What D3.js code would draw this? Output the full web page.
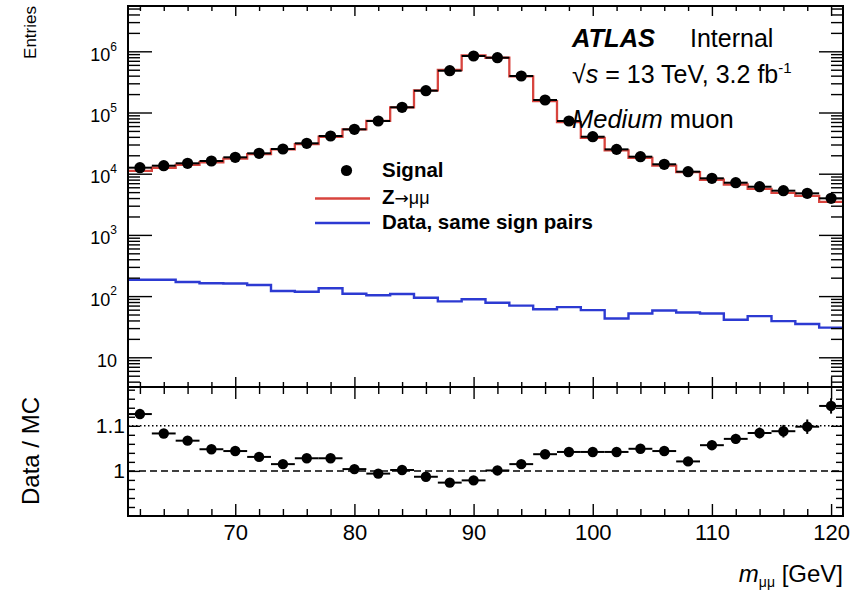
<!DOCTYPE html>
<html><head><meta charset="utf-8">
<script src="https://cdn.jsdelivr.net/npm/d3@7"></script>
<style>
body{margin:0;background:#fff;}
svg{display:block;font-family:"Liberation Sans",Arial,Helvetica,sans-serif;}
</style></head><body>
<svg id="c" width="867" height="590"></svg>
<script>
// ---- data ----
const binCenters=[62,64,66,68,70,72,74,76,78,80,82,84,86,88,90,92,94,96,98,100,102,104,106,108,110,112,114,116,118,120];
const binWidth=2;
const signal=[12540,13520,14790,16130,18530,21540,25330,31390,41300,53100,72600,121600,227000,482000,838000,786000,395000,160000,72600,40200,25000,18970,14250,10790,8410,7130,6130,5280,4780,3960];
const zmumu=[11100,12500,13900,15400,17700,20900,25000,30500,40200,52900,73000,121000,230000,495000,856000,785000,389000,154000,69700,38600,24000,18100,13600,10600,7960,6660,5650,4850,4350,3460];
const sameSign=[185,185,170,162,161,152,121,118,134,109,103,108,94,82,89,78,70,61,66,59,43,52,58,54,52,41,47,39,35,30.5];
const ratio=[1.126,1.083,1.067,1.048,1.044,1.031,1.015,1.028,1.028,1.004,0.994,1.002,0.987,0.974,0.979,1.001,1.015,1.037,1.042,1.042,1.042,1.049,1.044,1.021,1.057,1.071,1.084,1.088,1.098,1.144];
const ratioErr=[0.010,0.009,0.009,0.008,0.008,0.007,0.007,0.006,0.005,0.005,0.004,0.003,0.002,0.0015,0.001,0.001,0.0015,0.003,0.004,0.005,0.006,0.007,0.008,0.009,0.010,0.011,0.012,0.014,0.016,0.017];
const xTickLabels=[70,80,90,100,110,120];
const decadeTicks=[10,100,1000,10000,100000,1000000];
const ratioTickLabels=[1,1.1];
const legendLabels=["Signal","Z→μμ","Data, same sign pairs"];

// ---- layout ----
const svg=d3.select("#c");
const L=128,R=843,T=6,M=387,B=516;
const x=d3.scaleLinear().domain([61,121]).range([L,R]);
const y=d3.scaleLog().domain([3.27,5.5e6]).range([M,T]);
const yr=d3.scaleLinear().domain([0.9,1.186]).range([B,M]);

const RED="#d8443e", BLUE="#2c3ad2";

svg.append("defs").append("clipPath").attr("id","cu")
  .append("rect").attr("x",L).attr("y",T).attr("width",R-L).attr("height",M-T);

// minor tick values
const xMinor=d3.range(62,121,2).filter(v=>v%10!==0);
const logMinor=[];
for(let e=0;e<=6;e++){for(let m=2;m<=9;m++){const v=m*Math.pow(10,e);if(v>3.27&&v<5.5e6)logMinor.push(v);}}
const rMinor=d3.range(0.92,1.185,0.02).filter(v=>Math.abs(v-1)>1e-6&&Math.abs(v-1.1)>1e-6);

function axisG(gen,tx,ty){
  const g=svg.append("g").attr("transform",`translate(${tx},${ty})`).call(gen);
  g.select(".domain").remove();
  g.selectAll(".tick line").attr("stroke","#000").attr("stroke-width",1.4);
  g.selectAll(".tick text").attr("fill","#000");
  return g;
}

// ---- upper panel contents ----
const up=svg.append("g").attr("clip-path","url(#cu)");
function stepPts(vals){const p=[];binCenters.forEach((c,i)=>{p.push([c-binWidth/2,vals[i]]);p.push([c+binWidth/2,vals[i]]);});return p;}
const stepLine=d3.line().x(d=>x(d[0])).y(d=>y(d[1]));
up.append("path").attr("d",stepLine(stepPts(sameSign))).attr("fill","none").attr("stroke",BLUE).attr("stroke-width",2.4);
up.append("path").attr("d",stepLine(stepPts(zmumu))).attr("fill","none").attr("stroke",RED).attr("stroke-width",2.3);
up.selectAll(".hbar").data(signal).enter().append("line")
  .attr("x1",(d,i)=>x(binCenters[i]-binWidth/2)).attr("x2",(d,i)=>x(binCenters[i]+binWidth/2))
  .attr("y1",d=>y(d)).attr("y2",d=>y(d)).attr("stroke","#000").attr("stroke-width",2);
up.selectAll(".pt").data(signal).enter().append("circle")
  .attr("cx",(d,i)=>x(binCenters[i])).attr("cy",d=>y(d)).attr("r",5.6).attr("fill","#000");

// ---- ratio panel contents ----
svg.append("line").attr("x1",L).attr("x2",R).attr("y1",yr(1.1)).attr("y2",yr(1.1))
  .attr("stroke","#000").attr("stroke-width",1.5).attr("stroke-dasharray","1.5,2.5");
svg.append("line").attr("x1",L).attr("x2",R).attr("y1",yr(1)).attr("y2",yr(1))
  .attr("stroke","#000").attr("stroke-width",1.5).attr("stroke-dasharray","7,4");
const rg=svg.append("g");
rg.selectAll(".rh").data(ratio).enter().append("line")
  .attr("x1",(d,i)=>x(binCenters[i]-binWidth/2)).attr("x2",(d,i)=>x(binCenters[i]+binWidth/2))
  .attr("y1",d=>yr(d)).attr("y2",d=>yr(d)).attr("stroke","#000").attr("stroke-width",2);
rg.selectAll(".rv").data(ratio).enter().append("line")
  .attr("x1",(d,i)=>x(binCenters[i])).attr("x2",(d,i)=>x(binCenters[i]))
  .attr("y1",(d,i)=>yr(d-ratioErr[i])).attr("y2",(d,i)=>yr(d+ratioErr[i])).attr("stroke","#000").attr("stroke-width",2);
rg.selectAll(".rp").data(ratio).enter().append("circle")
  .attr("cx",(d,i)=>x(binCenters[i])).attr("cy",d=>yr(d)).attr("r",5.2).attr("fill","#000");

// ---- axes ----
axisG(d3.axisTop(x).tickValues(xTickLabels).tickSize(-10).tickFormat(""),0,T);
axisG(d3.axisTop(x).tickValues(xMinor).tickSize(-5).tickFormat(""),0,T);
axisG(d3.axisBottom(x).tickValues(xTickLabels).tickSize(-10).tickFormat(""),0,M);
axisG(d3.axisBottom(x).tickValues(xMinor).tickSize(-5).tickFormat(""),0,M);
const yl=axisG(d3.axisLeft(y).tickValues(decadeTicks).tickSize(-24).tickPadding(11).tickFormat(()=>"10"),L,0);
yl.selectAll(".tick text").attr("font-size",18).attr("dy","0.5em")
  .each(function(d){const e=Math.round(Math.log10(d));if(e>1){d3.select(this).append("tspan").attr("font-size",12).attr("dy","-0.85em").text(e);}});
axisG(d3.axisLeft(y).tickValues(logMinor).tickSize(-12).tickFormat(""),L,0);
axisG(d3.axisRight(y).tickValues(decadeTicks).tickSize(-24).tickFormat(""),R,0);
axisG(d3.axisRight(y).tickValues(logMinor).tickSize(-12).tickFormat(""),R,0);
axisG(d3.axisTop(x).tickValues(xTickLabels).tickSize(-12).tickFormat(""),0,M);
axisG(d3.axisTop(x).tickValues(xMinor).tickSize(-7).tickFormat(""),0,M);
const xb=axisG(d3.axisBottom(x).tickValues(xTickLabels).tickSize(-12).tickPadding(8).tickFormat(d3.format("d")),0,B);
xb.selectAll(".tick text").attr("font-size",22);
axisG(d3.axisBottom(x).tickValues(xMinor).tickSize(-7).tickFormat(""),0,B);
const ryl=axisG(d3.axisLeft(yr).tickValues(ratioTickLabels).tickSize(-12).tickPadding(3).tickFormat(d=>d===1?"1":"1.1"),L,0);
ryl.selectAll(".tick text").attr("font-size",21);
axisG(d3.axisLeft(yr).tickValues(rMinor).tickSize(-7).tickFormat(""),L,0);
axisG(d3.axisRight(yr).tickValues(ratioTickLabels).tickSize(-12).tickFormat(""),R,0);
axisG(d3.axisRight(yr).tickValues(rMinor).tickSize(-7).tickFormat(""),R,0);

// frames
svg.append("rect").attr("x",L).attr("y",T).attr("width",R-L).attr("height",M-T).attr("fill","none").attr("stroke","#000").attr("stroke-width",2);
svg.append("rect").attr("x",L).attr("y",M).attr("width",R-L).attr("height",B-M).attr("fill","none").attr("stroke","#000").attr("stroke-width",2);

// ---- titles ----
svg.append("text").attr("transform","translate(36,6) rotate(-90)").attr("text-anchor","end").attr("font-size",17).text("Entries");
svg.append("text").attr("transform","translate(39,451) rotate(-90)").attr("text-anchor","middle").attr("font-size",24).text("Data / MC");
const xt=svg.append("text").attr("x",R).attr("y",582).attr("text-anchor","end").attr("font-size",24);
xt.append("tspan").attr("font-style","italic").text("m");
xt.append("tspan").attr("font-size",14).attr("dy",5).text("μμ");
xt.append("tspan").attr("dy",-5).text(" [GeV]");

svg.append("text").attr("x",572).attr("y",47).attr("font-size",25.5).attr("font-weight","bold").attr("font-style","italic").text("ATLAS");
svg.append("text").attr("x",690).attr("y",47).attr("font-size",25).text("Internal");
const ss=svg.append("text").attr("x",572).attr("y",83).attr("font-size",25);
ss.append("tspan").text("√");
ss.append("tspan").attr("font-style","italic").text("s");
ss.append("tspan").text(" = 13 TeV, 3.2 fb");
ss.append("tspan").attr("font-size",15).attr("dy",-10).text("-1");
const md=svg.append("text").attr("x",572).attr("y",128).attr("font-size",25.5);
md.append("tspan").attr("font-style","italic").text("Medium");
md.append("tspan").text(" muon");

// legend
const lg=svg.append("g");
lg.append("circle").attr("cx",346.5).attr("cy",170.5).attr("r",5.6).attr("fill","#000");
lg.append("line").attr("x1",315).attr("x2",370).attr("y1",198.5).attr("y2",198.5).attr("stroke",RED).attr("stroke-width",2.4);
lg.append("line").attr("x1",315).attr("x2",370).attr("y1",223).attr("y2",223).attr("stroke",BLUE).attr("stroke-width",2.4);
lg.append("text").attr("x",382).attr("y",177).attr("font-size",20.5).attr("font-weight","bold").text(legendLabels[0]);
const zt=lg.append("text").attr("x",382).attr("y",204).attr("font-size",20.5);
zt.append("tspan").attr("font-weight","bold").text("Z");
zt.append("tspan").attr("font-family","DejaVu Sans, sans-serif").attr("font-size",17).text("→");
zt.append("tspan").attr("font-size",18).text("μμ");
lg.append("text").attr("x",382).attr("y",229).attr("font-size",20.5).attr("font-weight","bold").text(legendLabels[2]);
</script>
</body></html>
